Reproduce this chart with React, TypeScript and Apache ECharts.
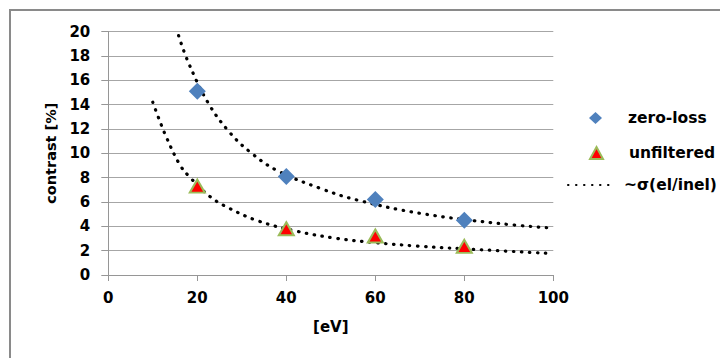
import React, { useEffect, useRef } from 'react';
import * as echarts from 'echarts';

const energyEV = [20, 40, 60, 80];
const zeroLoss = [15.1, 8.1, 6.2, 4.5];
const unfiltered = [7.3, 3.8, 3.2, 2.35];

const fitUpperX = [15.8, 18, 22.5, 27.3, 32.2, 38.1, 47.6, 56, 70, 87.3, 100];
const fitUpperY = [19.66, 17.45, 14.1, 11.7, 10.0, 8.55, 7.12, 6.15, 5.07, 4.25, 3.84];
const fitLowerX = [10, 11.2, 13.1, 16, 18, 22.9, 27.2, 33.7, 42.3, 51.3, 60, 69.3, 80, 98.9];
const fitLowerY = [14.19, 13.0, 11.28, 9.1, 8.16, 6.43, 5.48, 4.44, 3.6, 3.01, 2.65, 2.38, 2.15, 1.78];

const seriesNames = ['zero-loss', 'unfiltered', '~σ(el/inel)'];
const axisNames = { x: '[eV]', y: 'contrast [%]' };

const FONT = 'DejaVu Sans';
const dotted = { color: '#000', width: 3.2, type: [0.5, 7.5] as number[], cap: 'round' as const };
const legendText = (padLeft: number) => ({
  fontFamily: FONT, fontWeight: 'bold', fontSize: 15.5, color: '#000', padding: [0, 0, 0, padLeft],
});

export default function App() {
  const ref = useRef<HTMLDivElement>(null);
  useEffect(() => {
    if (!ref.current) return;
    const chart = echarts.init(ref.current, null, { renderer: 'svg' });
    const zip = (xs: number[], ys: number[]) => xs.map((x, i) => [x, ys[i]]);
    chart.setOption({
      animation: false,
      backgroundColor: '#fff',
      textStyle: { fontFamily: FONT },
      graphic: [
        {
          type: 'rect',
          shape: { x: 10, y: 10, width: 760, height: 420 },
          style: { fill: 'none', stroke: '#8a8a8a', lineWidth: 2 },
          silent: true,
        },
      ],
      grid: { left: 108.3, right: 166.7, top: 31.5, bottom: 83 },
      legend: [
        {
          data: [{ name: seriesNames[0], icon: 'diamond' }],
          left: 589, top: 110, padding: 0, itemWidth: 13, itemHeight: 12,
          textStyle: legendText(21),
        },
        {
          data: [{ name: seriesNames[1], icon: 'triangle' }],
          left: 589, top: 145, padding: 0, itemWidth: 13, itemHeight: 12,
          textStyle: legendText(21),
        },
        {
          data: [{ name: seriesNames[2], itemStyle: { opacity: 0 } }],
          left: 567, top: 177, padding: 0, itemWidth: 46, itemHeight: 12,
          textStyle: legendText(5),
        },
      ],
      xAxis: {
        type: 'value', min: 0, max: 100, interval: 20,
        name: axisNames.x, nameLocation: 'middle', nameGap: 44,
        nameTextStyle: { fontFamily: FONT, fontWeight: 'bold', fontSize: 15, color: '#000' },
        axisLine: { show: true, lineStyle: { color: '#969696', width: 1 } },
        axisTick: { show: true, length: 6, lineStyle: { color: '#969696' } },
        axisLabel: { fontFamily: FONT, fontWeight: 'bold', fontSize: 15, color: '#000', margin: 15 },
        splitLine: { show: false },
      },
      yAxis: {
        type: 'value', min: 0, max: 20, interval: 2,
        name: axisNames.y, nameLocation: 'middle', nameGap: 48, nameRotate: 90,
        nameTextStyle: { fontFamily: FONT, fontWeight: 'bold', fontSize: 14.5, color: '#000' },
        axisLine: { show: true, lineStyle: { color: '#969696', width: 1 } },
        axisTick: { show: true, length: 7, lineStyle: { color: '#969696' } },
        axisLabel: { fontFamily: FONT, fontWeight: 'bold', fontSize: 15, color: '#000', margin: 18 },
        splitLine: { show: true, lineStyle: { color: '#a6a6a6', width: 1 } },
      },
      series: [
        {
          name: seriesNames[2], type: 'line', data: zip(fitUpperX, fitUpperY),
          showSymbol: false, symbol: 'none', smooth: 0.4, lineStyle: dotted, itemStyle: { color: '#000' }, z: 2,
        },
        {
          name: seriesNames[2], type: 'line', data: zip(fitLowerX, fitLowerY),
          showSymbol: false, symbol: 'none', smooth: 0.4, lineStyle: dotted, itemStyle: { color: '#000' }, z: 2,
        },
        {
          name: seriesNames[0], type: 'scatter', data: zip(energyEV, zeroLoss),
          symbol: 'diamond', symbolSize: [17, 17], itemStyle: { color: '#4f81bd', opacity: 1 }, z: 3,
        },
        {
          name: seriesNames[1], type: 'scatter', data: zip(energyEV, unfiltered),
          symbol: 'triangle', symbolSize: [15, 13],
          itemStyle: { color: '#ff0000', borderColor: '#9bbb59', borderWidth: 2, opacity: 1 }, z: 3,
        },
      ],
    });
    return () => chart.dispose();
  }, []);
  return (
    <div
      ref={ref}
      style={{ position: 'fixed', left: 0, top: 0, width: 720, height: 358 }}
    />
  );
}
